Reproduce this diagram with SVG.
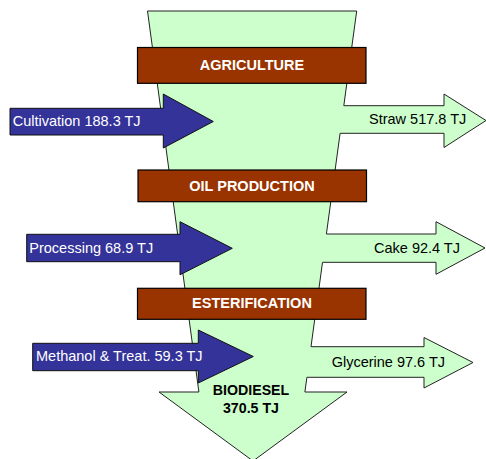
<svg xmlns="http://www.w3.org/2000/svg" width="486" height="459" viewBox="0 0 486 459">
  <style>
    text { font-family: "Liberation Sans", Arial, sans-serif; font-size: 14.5px; }
    .flow { fill: #CCFFCC; stroke: #222; stroke-width: 1; stroke-linejoin: miter; }
    .stage rect { fill: #993300; stroke: #000; stroke-width: 1.2; }
    .stage text { fill: #fff; font-weight: bold; text-anchor: middle; }
    .input polygon { fill: #333399; stroke: #111; stroke-width: 1; }
    .input text { fill: #fff; }
    .output text { fill: #000; }
    .product text { fill: #000; font-weight: bold; text-anchor: middle; font-size: 14.2px; }
  </style>
  <g id="connectors">
    <g id="funnel">
      <polygon class="flow" points="147.5,11 356.7,11 343.8,105.7 444,105.7 444,94 486,120.5 444,147.5 444,133.3 340.1,133.3 326.4,234 436,234 436,221.7 485,248 436,274.3 436,262.3 322.5,262.3 311,346.7 424,346.7 424,337.5 473,362.5 424,388 424,377.3 306.9,377.3 304.9,392 347,392 253,461 159,392 198.9,392"/>
    </g>
  </g>
  <g id="output-straw" class="output"><text x="369" y="124.3">Straw 517.8 TJ</text></g>
  <g id="output-cake" class="output"><text x="374" y="253.3">Cake 92.4 TJ</text></g>
  <g id="output-glycerine" class="output"><text x="331.7" y="366.7">Glycerine 97.6 TJ</text></g>
  <g id="product-biodiesel" class="product">
    <text x="251" y="395">BIODIESEL</text>
    <text x="251" y="413.3">370.5 TJ</text>
  </g>
  <g id="stage-agriculture" class="stage">
    <rect x="137.5" y="47.5" width="228.5" height="35.8"/>
    <text x="252" y="70">AGRICULTURE</text>
  </g>
  <g id="stage-oil" class="stage">
    <rect x="138" y="170" width="228.5" height="31.7"/>
    <text x="252" y="190.5">OIL PRODUCTION</text>
  </g>
  <g id="stage-esterification" class="stage">
    <rect x="137.5" y="288.3" width="228.5" height="31"/>
    <text x="252" y="307.5">ESTERIFICATION</text>
  </g>
  <g id="input-cultivation" class="input">
    <polygon points="10,108.3 163.3,108.3 163.3,94 213.3,121.5 163.3,148 163.3,135 10,135"/>
    <text x="12.7" y="125.5">Cultivation 188.3 TJ</text>
  </g>
  <g id="input-processing" class="input">
    <polygon points="26.7,234.3 180,234.3 180,221.7 232.3,248.3 180,274.8 180,261.7 26.7,261.7"/>
    <text x="29.3" y="253">Processing 68.9 TJ</text>
  </g>
  <g id="input-methanol" class="input">
    <polygon points="32.7,343.3 198.3,343.3 198.3,330 253.3,356.5 198.3,383 198.3,370.7 32.7,370.7"/>
    <text x="36" y="360.5">Methanol &amp; Treat. 59.3 TJ</text>
  </g>
</svg>
